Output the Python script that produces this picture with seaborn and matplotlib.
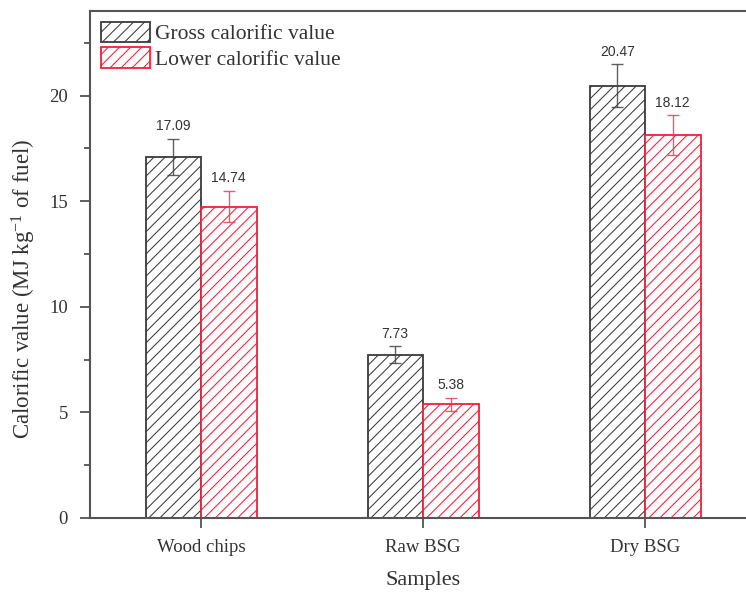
import matplotlib
matplotlib.use("Agg")
import matplotlib.pyplot as plt
from matplotlib.patches import Patch
from matplotlib.ticker import MultipleLocator
import numpy as np
import pandas as pd
import seaborn as sns

# Measured calorific values (MJ/kg of fuel)
samples = ["Wood chips", "Raw BSG", "Dry BSG"]
series = ["Gross calorific value", "Lower calorific value"]
gross_values = [17.09, 7.73, 20.47]
lower_values = [14.74, 5.38, 18.12]
gross_errors = [0.85, 0.40, 1.00]
lower_errors = [0.75, 0.32, 0.95]

df = pd.DataFrame({
    "Samples": samples * 2,
    "Series": [series[0]] * 3 + [series[1]] * 3,
    "Value": gross_values + lower_values,
})
errors = {series[0]: gross_errors, series[1]: lower_errors}
edge_colors = {series[0]: "#3a3a3a", series[1]: "#f0203a"}
err_colors = {series[0]: "#444444", series[1]: "#e0405a"}

sns.set_style("ticks")
plt.rcParams["font.family"] = ["Liberation Serif", "DejaVu Serif"]
plt.rcParams["mathtext.fontset"] = "custom"
plt.rcParams["mathtext.rm"] = "Liberation Serif"
plt.rcParams["mathtext.it"] = "Liberation Serif:italic"
plt.rcParams["hatch.linewidth"] = 0.75

fig = plt.figure(figsize=(7.46, 5.95), dpi=100)
ax = fig.add_axes([90 / 746, 1 - 518 / 595, (756 - 90) / 746, (518 - 11) / 595])

sns.barplot(data=df, x="Samples", y="Value", hue="Series", order=samples,
            hue_order=series, width=0.5, errorbar=None, fill=False,
            legend=False, ax=ax)

# Style each bar and add its error bar and value label
for s_idx, name in enumerate(series):
    container = ax.containers[s_idx]
    vals = df[df["Series"] == name]["Value"].to_list()
    for bar, val, err in zip(container.patches, vals, errors[name]):
        bar.set_facecolor("white")
        bar.set_fill(True)
        bar.set_edgecolor(edge_colors[name])
        bar.set_linewidth(1.3)
        bar.set_hatch("///")
        cx = bar.get_x() + bar.get_width() / 2
        ax.errorbar(cx, val, yerr=err, fmt="none", ecolor=err_colors[name],
                    elinewidth=1.0, capsize=4, capthick=1.0, zorder=4, alpha=0.85)
        ax.annotate(f"{val:.2f}", (cx, val + err), xytext=(0, 4), textcoords="offset points",
                    ha="center", va="bottom", fontsize=10, color="#333333",
                    family=["Liberation Sans", "DejaVu Sans"])

ax.set_xlim(-0.5, 2.5)
ax.set_ylim(0, 24)
ax.yaxis.set_major_locator(MultipleLocator(5))
ax.yaxis.set_minor_locator(MultipleLocator(2.5))
ax.tick_params(axis="both", which="major", direction="out", length=7, width=1.2,
               colors="#444444", labelsize=13.5, labelcolor="#333333")
ax.tick_params(axis="y", which="minor", direction="out", length=4, width=1.2, colors="#444444")
ax.tick_params(axis="x", pad=8)
ax.tick_params(axis="y", pad=9)

for side in ["left", "bottom", "top"]:
    ax.spines[side].set_color("#555555")
    ax.spines[side].set_linewidth(1.5)
ax.spines["right"].set_visible(False)

ax.set_xlabel("Samples", fontsize=16, color="#333333", labelpad=11)
ax.set_ylabel("Calorific value (MJ kg$^{-1}$ of fuel)", fontsize=16.5, color="#333333")
ax.yaxis.set_label_coords(-0.078, 0.452)

handles = [Patch(facecolor="white", edgecolor=edge_colors[n], hatch="///", linewidth=1.3, label=n)
           for n in series]
ax.legend(handles=handles, loc="upper left", bbox_to_anchor=(0.0, 1.0), frameon=False,
          fontsize=15.5, handlelength=2.3, handleheight=1.1, handletextpad=0.2,
          labelspacing=0.12, borderaxespad=0.3, borderpad=0.2, labelcolor="#333333")

fig.savefig("out.png", dpi=100)
